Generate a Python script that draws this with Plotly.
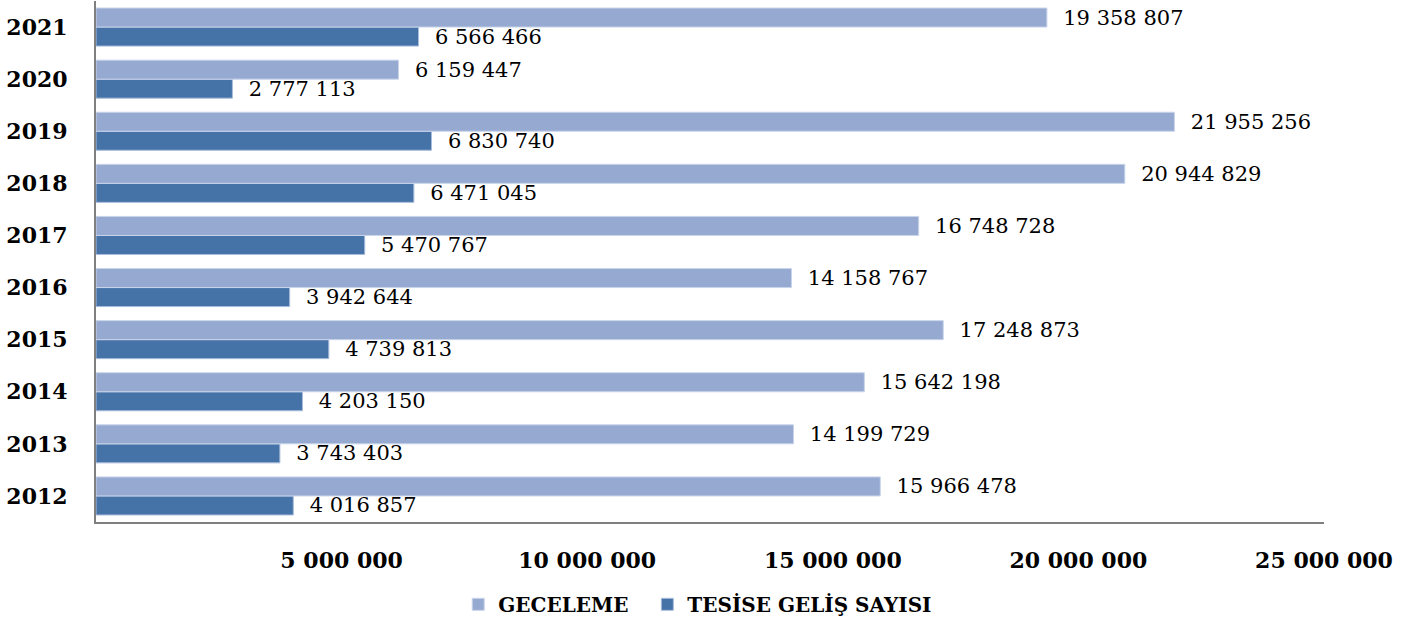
import plotly.graph_objects as go

years = ["2012", "2013", "2014", "2015", "2016", "2017", "2018", "2019", "2020", "2021"]
geceleme = [15966478, 14199729, 15642198, 17248873, 14158767, 16748728, 20944829, 21955256, 6159447, 19358807]
tesise = [4016857, 3743403, 4203150, 4739813, 3942644, 5470767, 6471045, 6830740, 2777113, 6566466]
tick_vals = [5000000, 10000000, 15000000, 20000000, 25000000]
tick_text = ["5 000 000", "10 000 000", "15 000 000", "20 000 000", "25 000 000"]


def fmt(v):
    return "\u00a0\u00a0" + f"{v:,}".replace(",", " ")


fig = go.Figure()
fig.add_trace(go.Bar(
    y=years, x=tesise, orientation="h", name="TESİSE GELİŞ SAYISI",
    marker=dict(color="#4573A8", line=dict(color="#A9BCDB", width=1)),
    text=[fmt(v) for v in tesise], textposition="outside", constraintext="none",
    textfont=dict(family="DejaVu Serif", size=21, color="#000000"),
    cliponaxis=False,
))
fig.add_trace(go.Bar(
    y=years, x=geceleme, orientation="h", name="GECELEME\u00a0\u00a0",
    marker=dict(color="#95A9D1", line=dict(color="#C9D4EA", width=1)),
    text=[fmt(v) for v in geceleme], textposition="outside", constraintext="none",
    textfont=dict(family="DejaVu Serif", size=21, color="#000000"),
    cliponaxis=False,
))

fig.update_layout(
    width=1415, height=620,
    margin=dict(l=96, r=91, t=1, b=98, autoexpand=False),
    paper_bgcolor="white", plot_bgcolor="white",
    barmode="group", bargap=0.27, bargroupgap=0,
    showlegend=True,
    legend=dict(orientation="h", x=0.49, xanchor="center", y=-0.158, yanchor="middle",
                traceorder="reversed",
                font=dict(family="DejaVu Serif", size=20, color="#000000", weight="bold"),
                itemwidth=30),
    font=dict(family="DejaVu Serif", color="#000000"),
)
fig.update_xaxes(
    range=[0, 25000000], tickvals=tick_vals, ticktext=tick_text,
    showgrid=False, zeroline=False, showline=True, linecolor="#7F7F7F", linewidth=2,
    ticks="", ticklabelstandoff=18, automargin=False,
    tickfont=dict(family="DejaVu Serif", size=22, color="#000000", weight="bold"),
)
fig.update_yaxes(
    type="category", categoryorder="array", categoryarray=years,
    showgrid=False, zeroline=False, showline=True, linecolor="#7F7F7F", linewidth=2,
    ticks="", ticklabelstandoff=22, automargin=False,
    tickfont=dict(family="DejaVu Serif", size=22, color="#000000", weight="bold"),
)

fig.write_html("out.html", config={"displayModeBar": False},
               post_script="document.body.style.margin='0';document.body.style.overflow='hidden';")
